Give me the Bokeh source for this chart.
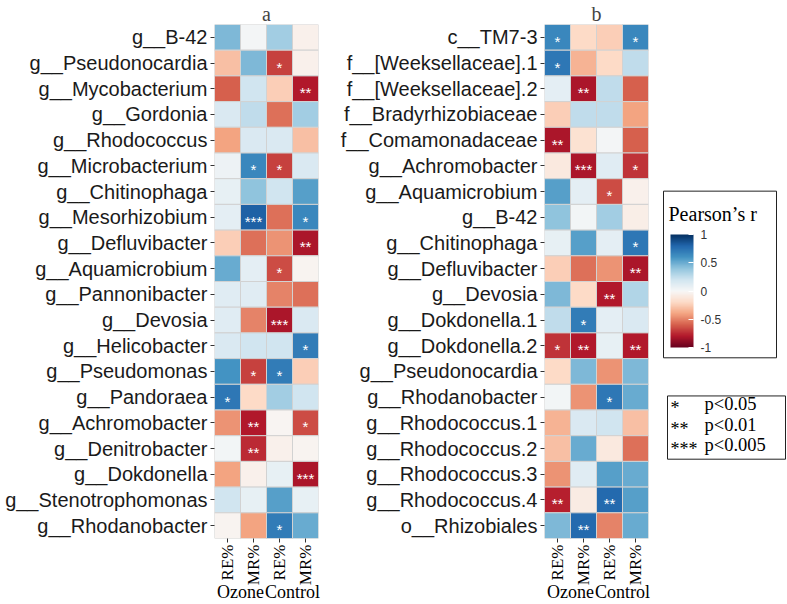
import math
import numpy as np
from bokeh.plotting import figure
from bokeh.models import (FactorRange, LinearColorMapper, ColorBar, FixedTicker,
                          ColumnDataSource, Range1d, LinearAxis)
from bokeh.layouts import row
from bokeh.embed import file_html
from bokeh.resources import INLINE
from bokeh.core.properties import value

# ---------------- data ----------------
col_group = ["Ozone", "Ozone", "Control", "Control"]
col_metric = ["RE%", "MR%", "RE%", "MR%"]
group_names = ["Ozone", "Control"]

taxa_a = ["g__B-42", "g__Pseudonocardia", "g__Mycobacterium", "g__Gordonia", "g__Rhodococcus",
          "g__Microbacterium", "g__Chitinophaga", "g__Mesorhizobium", "g__Defluvibacter",
          "g__Aquamicrobium", "g__Pannonibacter", "g__Devosia", "g__Helicobacter",
          "g__Pseudomonas", "g__Pandoraea", "g__Achromobacter", "g__Denitrobacter",
          "g__Dokdonella", "g__Stenotrophomonas", "g__Rhodanobacter"]
a_ozone_re = [0.45, -0.30, -0.60, 0.15, -0.40, 0.05, 0.08, 0.10, -0.25, 0.50,
              0.12, 0.12, 0.15, 0.60, 0.72, -0.45, 0.03, -0.40, 0.20, -0.03]
a_ozone_mr = [0.02, 0.45, 0.20, 0.25, 0.15, 0.65, 0.40, 0.82, -0.55, 0.10,
              0.12, -0.50, 0.20, -0.68, -0.20, -0.80, -0.75, -0.05, 0.08, -0.40]
a_control_re = [0.35, -0.68, -0.25, -0.55, 0.15, -0.68, 0.20, -0.55, -0.45, -0.65,
                -0.50, -0.82, 0.20, 0.70, 0.35, -0.02, -0.05, 0.08, 0.55, 0.70]
a_control_mr = [-0.05, -0.05, -0.80, 0.35, -0.30, 0.15, 0.55, 0.65, -0.82, -0.03,
                -0.55, 0.15, 0.70, -0.25, 0.20, -0.65, -0.03, -0.82, 0.08, 0.50]
a_sig_ozone_re = ["", "", "", "", "", "", "", "", "", "", "", "", "", "", "*", "", "", "", "", ""]
a_sig_ozone_mr = ["", "", "", "", "", "*", "", "***", "", "", "", "", "", "*", "", "**", "**", "", "", ""]
a_sig_control_re = ["", "*", "", "", "", "*", "", "", "", "*", "", "***", "", "*", "", "", "", "", "", "*"]
a_sig_control_mr = ["", "", "**", "", "", "", "", "*", "**", "", "", "", "*", "", "", "*", "", "***", "", ""]

taxa_b = ["c__TM7-3", "f__[Weeksellaceae].1", "f__[Weeksellaceae].2", "f__Bradyrhizobiaceae",
          "f__Comamonadaceae", "g__Achromobacter", "g__Aquamicrobium", "g__B-42",
          "g__Chitinophaga", "g__Defluvibacter", "g__Devosia", "g__Dokdonella.1",
          "g__Dokdonella.2", "g__Pseudonocardia", "g__Rhodanobacter", "g__Rhodococcus.1",
          "g__Rhodococcus.2", "g__Rhodococcus.3", "g__Rhodococcus.4", "o__Rhizobiales"]
b_ozone_re = [0.65, 0.72, 0.10, -0.25, -0.82, -0.10, 0.55, 0.40, 0.08, -0.25,
              0.45, 0.25, -0.72, -0.20, 0.03, -0.35, -0.30, -0.45, -0.78, 0.45]
b_ozone_mr = [-0.20, -0.35, -0.82, 0.25, -0.15, -0.82, 0.10, 0.03, 0.55, -0.55,
              -0.20, 0.70, -0.80, 0.45, -0.45, 0.15, 0.50, 0.12, -0.08, 0.78]
b_control_re = [-0.25, -0.20, 0.25, 0.25, 0.02, 0.12, -0.65, 0.35, 0.10, -0.45,
                -0.80, 0.10, 0.08, -0.45, 0.72, 0.20, -0.10, 0.55, 0.78, -0.50]
b_control_mr = [0.65, 0.25, -0.60, -0.40, -0.60, -0.72, -0.05, -0.07, 0.72, -0.82,
                0.30, 0.15, -0.80, 0.45, 0.50, -0.30, -0.55, 0.50, 0.55, 0.50]
b_sig_ozone_re = ["*", "*", "", "", "**", "", "", "", "", "", "", "", "*", "", "", "", "", "", "**", ""]
b_sig_ozone_mr = ["", "", "**", "", "", "***", "", "", "", "", "", "*", "**", "", "", "", "", "", "", "**"]
b_sig_control_re = ["", "", "", "", "", "", "*", "", "", "", "**", "", "", "", "*", "", "", "", "**", ""]
b_sig_control_mr = ["*", "", "", "", "", "*", "", "", "*", "**", "", "", "**", "", "", "", "", "", "", ""]

cb_ticks = [-1, -0.5, 0, 0.5, 1]
cb_tick_labels = ["-1", "-0.5", "0", "0.5", "1"]
sig_symbols = ["*", "**", "***"]
sig_labels = ["p<0.05", "p<0.01", "p<0.005"]

# ---------------- palette ----------------
rdbu = ["#67001f", "#b2182b", "#d6604d", "#f4a582", "#fddbc7", "#f7f7f7",
        "#d1e5f0", "#92c5de", "#4393c3", "#2166ac", "#053061"]


def interp_palette(cols, n=256):
    rgb = np.array([[int(c[i:i + 2], 16) for i in (1, 3, 5)] for c in cols], dtype=float)
    xs = np.linspace(0, 1, len(cols))
    t = np.linspace(0, 1, n)
    out = np.stack([np.interp(t, xs, rgb[:, k]) for k in range(3)], axis=1)
    return ["#%02x%02x%02x" % tuple(int(round(v)) for v in r) for r in out]


palette = interp_palette(rdbu)
mapper = LinearColorMapper(palette=palette, low=-1, high=1)

H = 604
SANS = "Liberation Sans"
SERIF = "Liberation Serif"
ncol = len(col_metric)
col_pos = [i + 0.5 for i in range(ncol)]
grp_pos = [float(np.mean([col_pos[i] for i in range(ncol) if col_group[i] == g])) for g in group_names]


def heat_panel(title, taxa, vals, sigs, width, left, right):
    xs, ys, rs, ss = [], [], [], []
    for ci in range(ncol):
        for ti, t in enumerate(taxa):
            xs.append(col_pos[ci])
            ys.append(t)
            rs.append(vals[ci][ti])
            ss.append(sigs[ci][ti])
    src = ColumnDataSource(dict(x=xs, y=ys, r=rs, s=ss))
    p = figure(width=width, height=H, toolbar_location=None, output_backend="svg",
               x_range=Range1d(0, ncol),
               y_range=FactorRange(*list(reversed(taxa)), range_padding=0),
               min_border_left=left, min_border_right=right, min_border_top=0,
               min_border_bottom=0, title=title)
    p.rect(x="x", y="y", width=1, height=1, source=src,
           fill_color={"field": "r", "transform": mapper},
           line_color="#d2d2d2", line_width=1)
    p.text(x="x", y="y", text="s", source=src, text_color="white",
           text_font=value(SANS), text_font_size="15px", text_align="center",
           text_baseline="middle", y_offset=4)
    p.grid.visible = False
    p.outline_line_color = None
    p.title.text_font = SERIF
    p.title.text_font_size = "20px"
    p.title.text_font_style = "normal"
    p.title.align = "center"
    p.title.standoff = 0
    ya = p.yaxis[0]
    ya.axis_line_color = None
    ya.major_tick_out = 4
    ya.major_tick_in = 0
    ya.major_tick_line_color = "#333333"
    ya.major_label_text_font = SANS
    ya.major_label_text_font_size = "20px"
    ya.major_label_text_color = "#1a1a1a"
    ya.major_label_standoff = 3
    xa = p.xaxis[0]
    xa.ticker = FixedTicker(ticks=col_pos, minor_ticks=[])
    xa.major_label_overrides = {col_pos[i]: col_metric[i] for i in range(ncol)}
    xa.axis_line_color = None
    xa.major_tick_out = 4
    xa.major_tick_in = 0
    xa.minor_tick_line_color = None
    xa.major_tick_line_color = "#333333"
    xa.major_label_orientation = math.pi / 2
    xa.major_label_text_font = SERIF
    xa.major_label_text_font_size = "17px"
    xa.major_label_text_color = "black"
    xa.major_label_standoff = 2
    ga = LinearAxis(ticker=FixedTicker(ticks=grp_pos, minor_ticks=[]),
                    major_label_overrides={grp_pos[i]: group_names[i] for i in range(len(group_names))},
                    axis_line_color=None, major_tick_line_color=None, minor_tick_line_color=None,
                    major_tick_out=0, major_tick_in=0, major_label_standoff=-7,
                    major_label_text_font=SERIF, major_label_text_font_size="18px",
                    major_label_text_color="black")
    p.add_layout(ga, "below")
    return p


pa = heat_panel("a", taxa_a, [a_ozone_re, a_ozone_mr, a_control_re, a_control_mr],
                [a_sig_ozone_re, a_sig_ozone_mr, a_sig_control_re, a_sig_control_mr],
                width=326, left=214, right=8)
pb = heat_panel("b", taxa_b, [b_ozone_re, b_ozone_mr, b_control_re, b_control_mr],
                [b_sig_ozone_re, b_sig_ozone_mr, b_sig_control_re, b_sig_control_mr],
                width=328, left=218, right=6)

# ---------------- legend panel ----------------
# its frame lines up with the heat-map frames; y data = page pixel row (flipped range)
FT, FB = 26, 538
LW = 133
leg = figure(width=LW, height=H, toolbar_location=None, output_backend="svg",
             x_range=Range1d(0, LW), y_range=Range1d(FB, FT),
             x_axis_location=None, y_axis_location=None,
             min_border_left=0, min_border_right=0, min_border_top=0, min_border_bottom=0)
leg.grid.visible = False
leg.outline_line_color = None

box_src = ColumnDataSource(dict(l=[9, 13], r=[122, 131], t=[192, 396], b=[358, 459]))
leg.quad(left="l", right="r", top="t", bottom="b", source=box_src,
         fill_color="white", line_color="#222222", line_width=1)
leg.text(x=[14], y=[215], text=["Pearson\u2019s r"], text_font=value(SERIF),
         text_font_size="20px", text_baseline="middle", text_color="black")

cb = ColorBar(color_mapper=mapper, location=(16, FB - 347), width=23, height=113,
              padding=0, title=None,
              ticker=FixedTicker(ticks=cb_ticks, minor_ticks=[]),
              major_label_overrides={cb_ticks[i]: cb_tick_labels[i] for i in range(len(cb_ticks))},
              major_label_text_font=SANS, major_label_text_font_size="12px",
              major_label_text_color="#333333", label_standoff=7,
              major_tick_line_color="white", major_tick_in=5, major_tick_out=0,
              border_line_color=None, background_fill_color=None, background_fill_alpha=0,
              bar_line_color=None)
leg.add_layout(cb)

sig_src = ColumnDataSource(dict(xs=[16, 16, 16], xl=[50, 50, 50], y=[404, 425, 445],
                                sym=sig_symbols, lab=sig_labels))
leg.text(x="xs", y="y", text="sym", source=sig_src, text_font=value(SERIF),
         text_font_size="18px", text_baseline="middle", text_color="black", y_offset=4)
leg.text(x="xl", y="y", text="lab", source=sig_src, text_font=value(SERIF),
         text_font_size="18.5px", text_baseline="middle", text_color="black")

layout = row(pa, pb, leg)
open("out.html", "w").write(file_html(layout, INLINE))
